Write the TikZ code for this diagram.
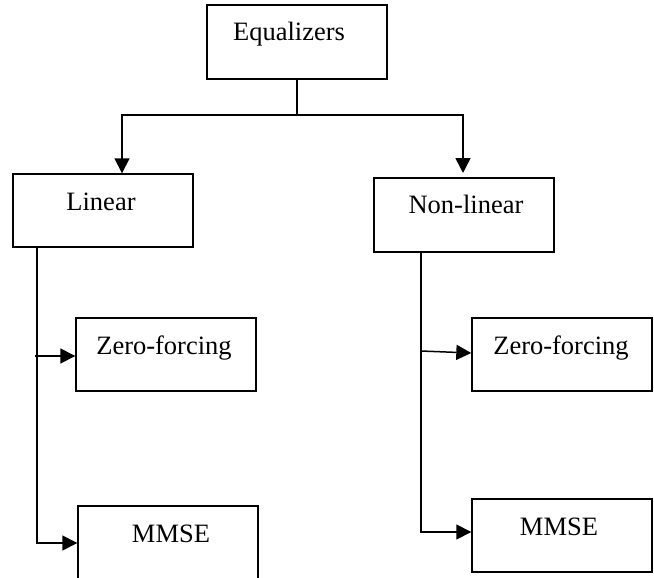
\documentclass[tikz,border=0pt]{standalone}
\usepackage{fontspec}
\setmainfont{Liberation Serif}
\usetikzlibrary{arrows.meta}
\begin{document}
\begin{tikzpicture}[x=1pt,y=-1pt,
  box/.style={draw, line width=1.4pt, rectangle, inner sep=0pt},
  lbl/.style={anchor=base, inner sep=0pt, font=\fontsize{26.5}{31}\selectfont},
  conn/.style={line width=1.5pt},
  arr/.style={conn, -{Triangle[length=15pt,width=15pt]}}]
\useasboundingbox (0,0) rectangle (654,578);
\clip (0,0) rectangle (654,578);
% boxes
\node[box, minimum width=180pt, minimum height=74pt] (eq) at (297,42) {};
\node[box, minimum width=180pt, minimum height=73pt] (lin) at (103,210.5) {};
\node[box, minimum width=180pt, minimum height=74pt] (non) at (464,215) {};
\node[box, minimum width=180pt, minimum height=73pt] (zf1) at (166,354.5) {};
\node[box, minimum width=180pt, minimum height=84pt] (mm1) at (168,548) {};
\node[box, minimum width=180pt, minimum height=73pt] (zf2) at (562,354.5) {};
\node[box, minimum width=180pt, minimum height=73pt] (mm2) at (562,535.5) {};
% labels
\node[lbl] (teq) at (289,41) {Equalizers};
\node[lbl] (tlin) at (101,210) {Linear};
\node[lbl] (tnon) at (466,213) {Non-linear};
\node[lbl] (tzf1) at (164,354) {Zero-forcing};
\node[lbl] (tmm1) at (171,542) {MMSE};
\node[lbl] (tzf2) at (561,354) {Zero-forcing};
\node[lbl] (tmm2) at (559,535) {MMSE};
% connectors from Equalizers
\coordinate (j) at (297,115);
\coordinate (jl) at (122,115);
\coordinate (jr) at (463,115);
\draw[conn] (eq.south) -- (j);
\draw[conn, line cap=rect] (jl) -- (jr);
\draw[arr] (jl) -- ([xshift=19pt]lin.north);
\draw[arr] (jr) -- (463,173);
% left branch
\coordinate (lt) at (37,247);
\coordinate (lb) at (37,543);
\coordinate (lz) at (35,356);
\draw[arr] (lt) -- (lb) -- (mm1.west |- lb);
\draw[arr] (lz) -- (zf1.west |- lz);
% right branch
\coordinate (rt) at (421,252);
\coordinate (rb) at (421,532);
\coordinate (rz) at (421,351);
\draw[arr] (rt) -- (rb) -- (mm2.west |- rb);
\draw[arr] (rz) -- (zf2.west |- 0,353);
\end{tikzpicture}
\end{document}
